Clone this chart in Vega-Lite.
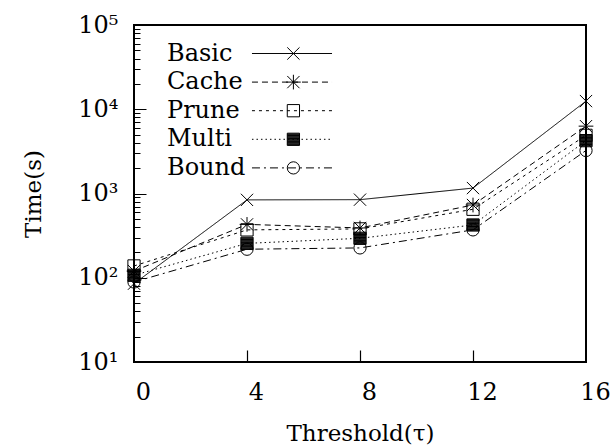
{
  "$schema": "https://vega.github.io/schema/vega-lite/v6.json",
  "width": 452,
  "height": 337,
  "autosize": {"type": "none"},
  "padding": {"left": 134, "top": 25, "right": 28, "bottom": 85},
  "background": "white",
  "config": {
    "view": {"stroke": "black", "strokeWidth": 2},
    "font": "DejaVu Serif",
    "axis": {"labelColor": "black", "titleColor": "black", "tickColor": "black", "grid": false, "domain": false}
  },
  "data": {
    "values": [
      {"method": "Basic", "threshold": 0, "time": 85},
      {"method": "Basic", "threshold": 4, "time": 840},
      {"method": "Basic", "threshold": 8, "time": 845},
      {"method": "Basic", "threshold": 12, "time": 1160},
      {"method": "Basic", "threshold": 16, "time": 12500},
      {"method": "Cache", "threshold": 0, "time": 120},
      {"method": "Cache", "threshold": 4, "time": 430},
      {"method": "Cache", "threshold": 8, "time": 390},
      {"method": "Cache", "threshold": 12, "time": 730},
      {"method": "Cache", "threshold": 16, "time": 6300},
      {"method": "Prune", "threshold": 0, "time": 138},
      {"method": "Prune", "threshold": 4, "time": 370},
      {"method": "Prune", "threshold": 8, "time": 380},
      {"method": "Prune", "threshold": 12, "time": 650},
      {"method": "Prune", "threshold": 16, "time": 4900},
      {"method": "Multi", "threshold": 0, "time": 107},
      {"method": "Multi", "threshold": 4, "time": 256},
      {"method": "Multi", "threshold": 8, "time": 294},
      {"method": "Multi", "threshold": 12, "time": 423},
      {"method": "Multi", "threshold": 16, "time": 4240},
      {"method": "Bound", "threshold": 0, "time": 89},
      {"method": "Bound", "threshold": 4, "time": 218},
      {"method": "Bound", "threshold": 8, "time": 226},
      {"method": "Bound", "threshold": 12, "time": 370},
      {"method": "Bound", "threshold": 16, "time": 3240}
    ]
  },
  "layer": [
    {
      "mark": {"type": "line", "color": "black", "strokeWidth": 1},
      "encoding": {
        "x": {
          "field": "threshold", "type": "quantitative",
          "scale": {"domain": [0, 16], "nice": false, "zero": false},
          "axis": {
            "orient": "bottom", "values": [0, 4, 8, 12, 16], "ticks": false,
            "labelFont": "DejaVu Serif", "labelFontSize": 24, "labelPadding": 18, "labelOffset": 9, "labelFlush": false,
            "title": "Threshold(τ)", "titleFont": "DejaVu Serif", "titleFontSize": 23, "titleFontWeight": "normal",
            "titleBaseline": "alphabetic", "titleY": 78, "titleX": 226
          }
        },
        "y": {
          "field": "time", "type": "quantitative",
          "scale": {"type": "log", "domain": [10, 100000], "nice": false},
          "axis": {
            "orient": "left", "values": [10, 100, 1000, 10000, 100000], "ticks": false,
            "labelExpr": "'10' + ['⁰','¹','²','³','⁴','⁵'][round(log(datum.value)/LN10)]",
            "labelFont": "DejaVu Serif", "labelFontSize": 24, "labelPadding": 16, "labelDy": 4, "labelFlush": false,
            "title": "Time(s)", "titleFont": "DejaVu Serif", "titleFontSize": 23, "titleFontWeight": "normal",
            "titleAngle": 270, "titleBaseline": "alphabetic", "titleX": -94, "titleY": 168.5
          }
        },
        "strokeDash": {
          "field": "method", "type": "nominal",
          "scale": {"domain": ["Basic", "Cache", "Prune", "Multi", "Bound"], "range": [[1, 0], [6, 4], [3, 4], [1.5, 3], [8, 4, 2, 4]]},
          "legend": {
            "orient": "none", "legendX": 146, "legendY": 16.5, "title": null,
            "symbolType": "M-6.67,0H6.67", "symbolSize": 144, "symbolStrokeWidth": 1, "symbolStrokeColor": "black", "symbolFillColor": "transparent",
            "labelAlign": "left", "labelOffset": -137, "labelFont": "DejaVu Serif", "labelFontSize": 24,
            "labelColor": "black", "labelLimit": 0, "rowPadding": 4.6, "padding": 0
          }
        }
      }
    },
    {
      "mark": {"type": "point", "filled": false, "color": "black", "strokeWidth": 1, "opacity": 1, "size": 150},
      "encoding": {
        "x": {
          "field": "threshold", "type": "quantitative",
          "scale": {"domain": [0, 16], "nice": false, "zero": false},
          "axis": {"orient": "bottom", "values": [4, 8, 12], "tickSize": -12, "tickWidth": 1.2, "labels": false, "title": null}
        },
        "y": {
          "field": "time", "type": "quantitative",
          "scale": {"type": "log", "domain": [10, 100000], "nice": false},
          "axis": {"orient": "left", "values": [10, 100, 1000, 10000, 100000], "tickSize": -12, "tickWidth": 1, "labels": false, "title": null}
        },
        "shape": {
          "field": "method", "type": "nominal",
          "sort": ["Basic", "Cache", "Prune", "Multi", "Bound"],
          "scale": {"range": [
            "M-1,-1L1,1M-1,1L1,-1",
            "M-1,-1L1,1M-1,1L1,-1M0,-1.2L0,1.2M-1.2,0L1.2,0",
            "square",
            "M-1,-1H1V1H-1Z M-1,-0.875H1 M-1,-0.75H1 M-1,-0.625H1 M-1,-0.5H1 M-1,-0.375H1 M-1,-0.25H1 M-1,-0.125H1 M-1,0H1 M-1,0.125H1 M-1,0.25H1 M-1,0.375H1 M-1,0.5H1 M-1,0.625H1 M-1,0.75H1 M-1,0.875H1",
            "circle"
          ]},
          "legend": {
            "orient": "none", "legendX": 147.4, "legendY": 16.5, "title": null,
            "symbolSize": 150, "symbolStrokeWidth": 1, "symbolStrokeColor": "black", "symbolFillColor": "transparent", "symbolOpacity": 1,
            "labelFontSize": 24, "labelFont": "DejaVu Serif", "labelOpacity": 0, "rowPadding": 4.6, "padding": 0
          }
        }
      }
    },
    {
      "mark": {"type": "point", "opacity": 0},
      "encoding": {
        "x": {"field": "threshold", "type": "quantitative", "scale": {"domain": [0, 16], "nice": false, "zero": false}, "axis": null},
        "y": {
          "field": "time", "type": "quantitative",
          "scale": {"type": "log", "domain": [10, 100000], "nice": false},
          "axis": {
            "orient": "left", "tickSize": -6, "tickWidth": 1, "labels": false, "title": null,
            "values": [20, 30, 40, 50, 60, 70, 80, 90, 200, 300, 400, 500, 600, 700, 800, 900, 2000, 3000, 4000, 5000, 6000, 7000, 8000, 9000, 20000, 30000, 40000, 50000, 60000, 70000, 80000, 90000]
          }
        }
      }
    }
  ],
  "resolve": {"axis": {"x": "independent", "y": "independent"}}
}
